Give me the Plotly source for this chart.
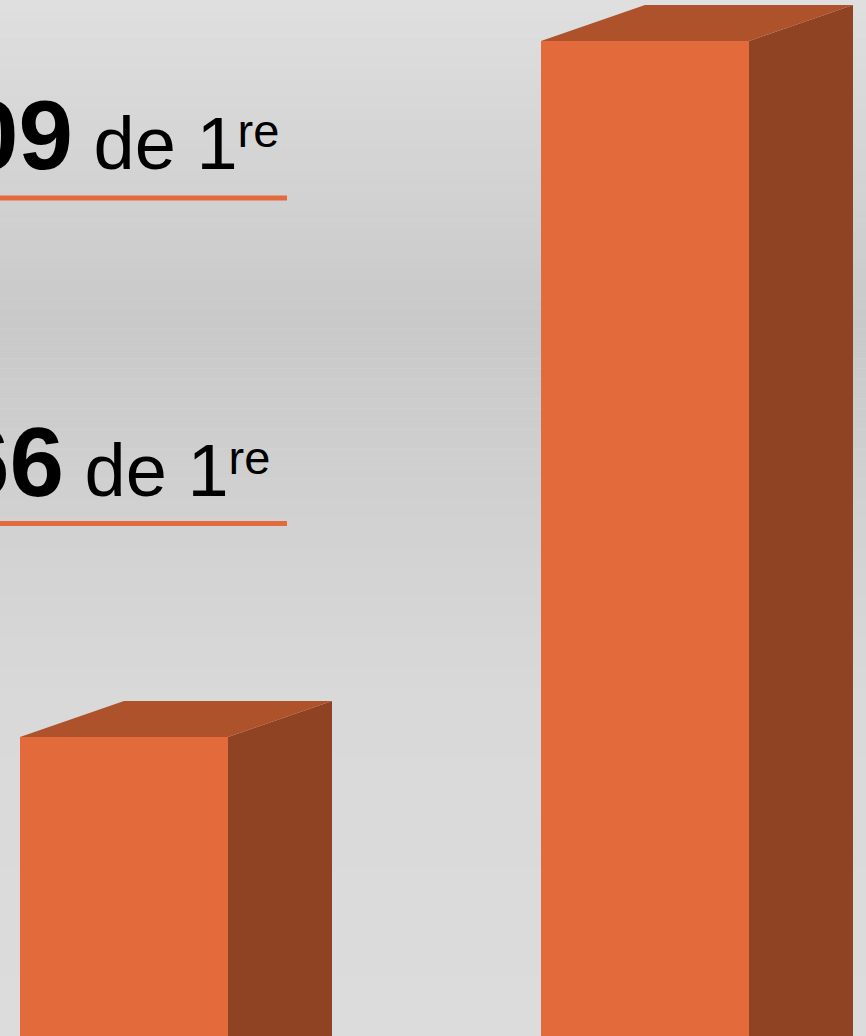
import plotly.graph_objects as go

# ---- data (pixel-like units from the bottom edge) ----
bar_positions = [124, 645]          # bar centres along the x axis
bar_values = [299, 995]             # height of the front face top
label_numbers = ["66", "09"]        # visible bold numbers (left part cropped)
label_suffix = "de 1"
label_sup = "re"

W, H = 866, 1036
BAR_W = 208
DX, DY = 104, 36

FRONT = "#E36A3B"
TOP = "#AE522C"
SIDE = "#8F4323"
FONT = "Liberation Sans, Arial, sans-serif"

fig = go.Figure()
fig.add_trace(go.Bar(
    x=bar_positions, y=bar_values, width=[BAR_W] * len(bar_values),
    marker=dict(color=FRONT, line=dict(width=0)), hoverinfo="skip",
))

shapes = []
# gradient background as horizontal bands
stops = [(0, 0xDF), (320, 0xC9), (700, 0xD9), (1036, 0xDC)]
N = 104
for i in range(N):
    y0 = i * H / N
    y1 = (i + 1) * H / N
    ym = (y0 + y1) / 2
    for (a, ca), (b, cb) in zip(stops[:-1], stops[1:]):
        if a <= ym <= b:
            c = int(round(ca + (cb - ca) * (ym - a) / (b - a)))
            break
    col = f"rgb({c},{c},{c})"
    shapes.append(dict(type="rect", xref="paper", yref="paper",
                       x0=0, x1=1, y0=1 - y1 / H, y1=1 - y0 / H,
                       fillcolor=col, line=dict(width=0), layer="below"))

# 3D faces derived from the bar values
for xc, v in zip(bar_positions, bar_values):
    x0, x1 = xc - BAR_W / 2, xc + BAR_W / 2
    shapes.append(dict(type="path", xref="x", yref="y",
                       path=f"M {x1},0 L {x1},{v} L {x1+DX},{v+DY} L {x1+DX},0 Z",
                       fillcolor=SIDE, line=dict(width=0), layer="above"))
    shapes.append(dict(type="path", xref="x", yref="y",
                       path=f"M {x0},{v} L {x1},{v} L {x1+DX},{v+DY} L {x0+DX},{v+DY} Z",
                       fillcolor=TOP, line=dict(width=0), layer="above"))

# underlines
for yl in [H - 523.5, H - 198]:
    shapes.append(dict(type="line", xref="x", yref="y", x0=0, x1=287, y0=yl, y1=yl,
                       line=dict(color=FRONT, width=5), layer="above"))

annotations = []
# (right x, bottom y) per label
placements = [(271.5, H - 518.8), (280.5, H - 191.8)]
for num, (xr, yb) in zip(label_numbers, placements):
    annotations.append(dict(
        xref="x", yref="y", x=xr, y=yb, xanchor="right", yanchor="bottom",
        showarrow=False,
        text=(f"<span style='font-size:98px'><b>{num}</b></span> {label_suffix}"
              f"<span style='font-size:47px;baseline-shift:22px'>{label_sup}</span>"),
        font=dict(family=FONT, size=74, color="black"),
    ))

fig.update_layout(
    width=W, height=H, margin=dict(l=0, r=0, t=0, b=0),
    paper_bgcolor="#d8d8d8", plot_bgcolor="rgba(0,0,0,0)",
    xaxis=dict(range=[0, W], visible=False, fixedrange=True),
    yaxis=dict(range=[0, H], visible=False, fixedrange=True),
    shapes=shapes, annotations=annotations, showlegend=False, bargap=0,
)

fig.write_html("out.html", config={"displayModeBar": False, "staticPlot": True},
               post_script="document.body.style.margin='0';document.body.style.overflow='hidden';")
